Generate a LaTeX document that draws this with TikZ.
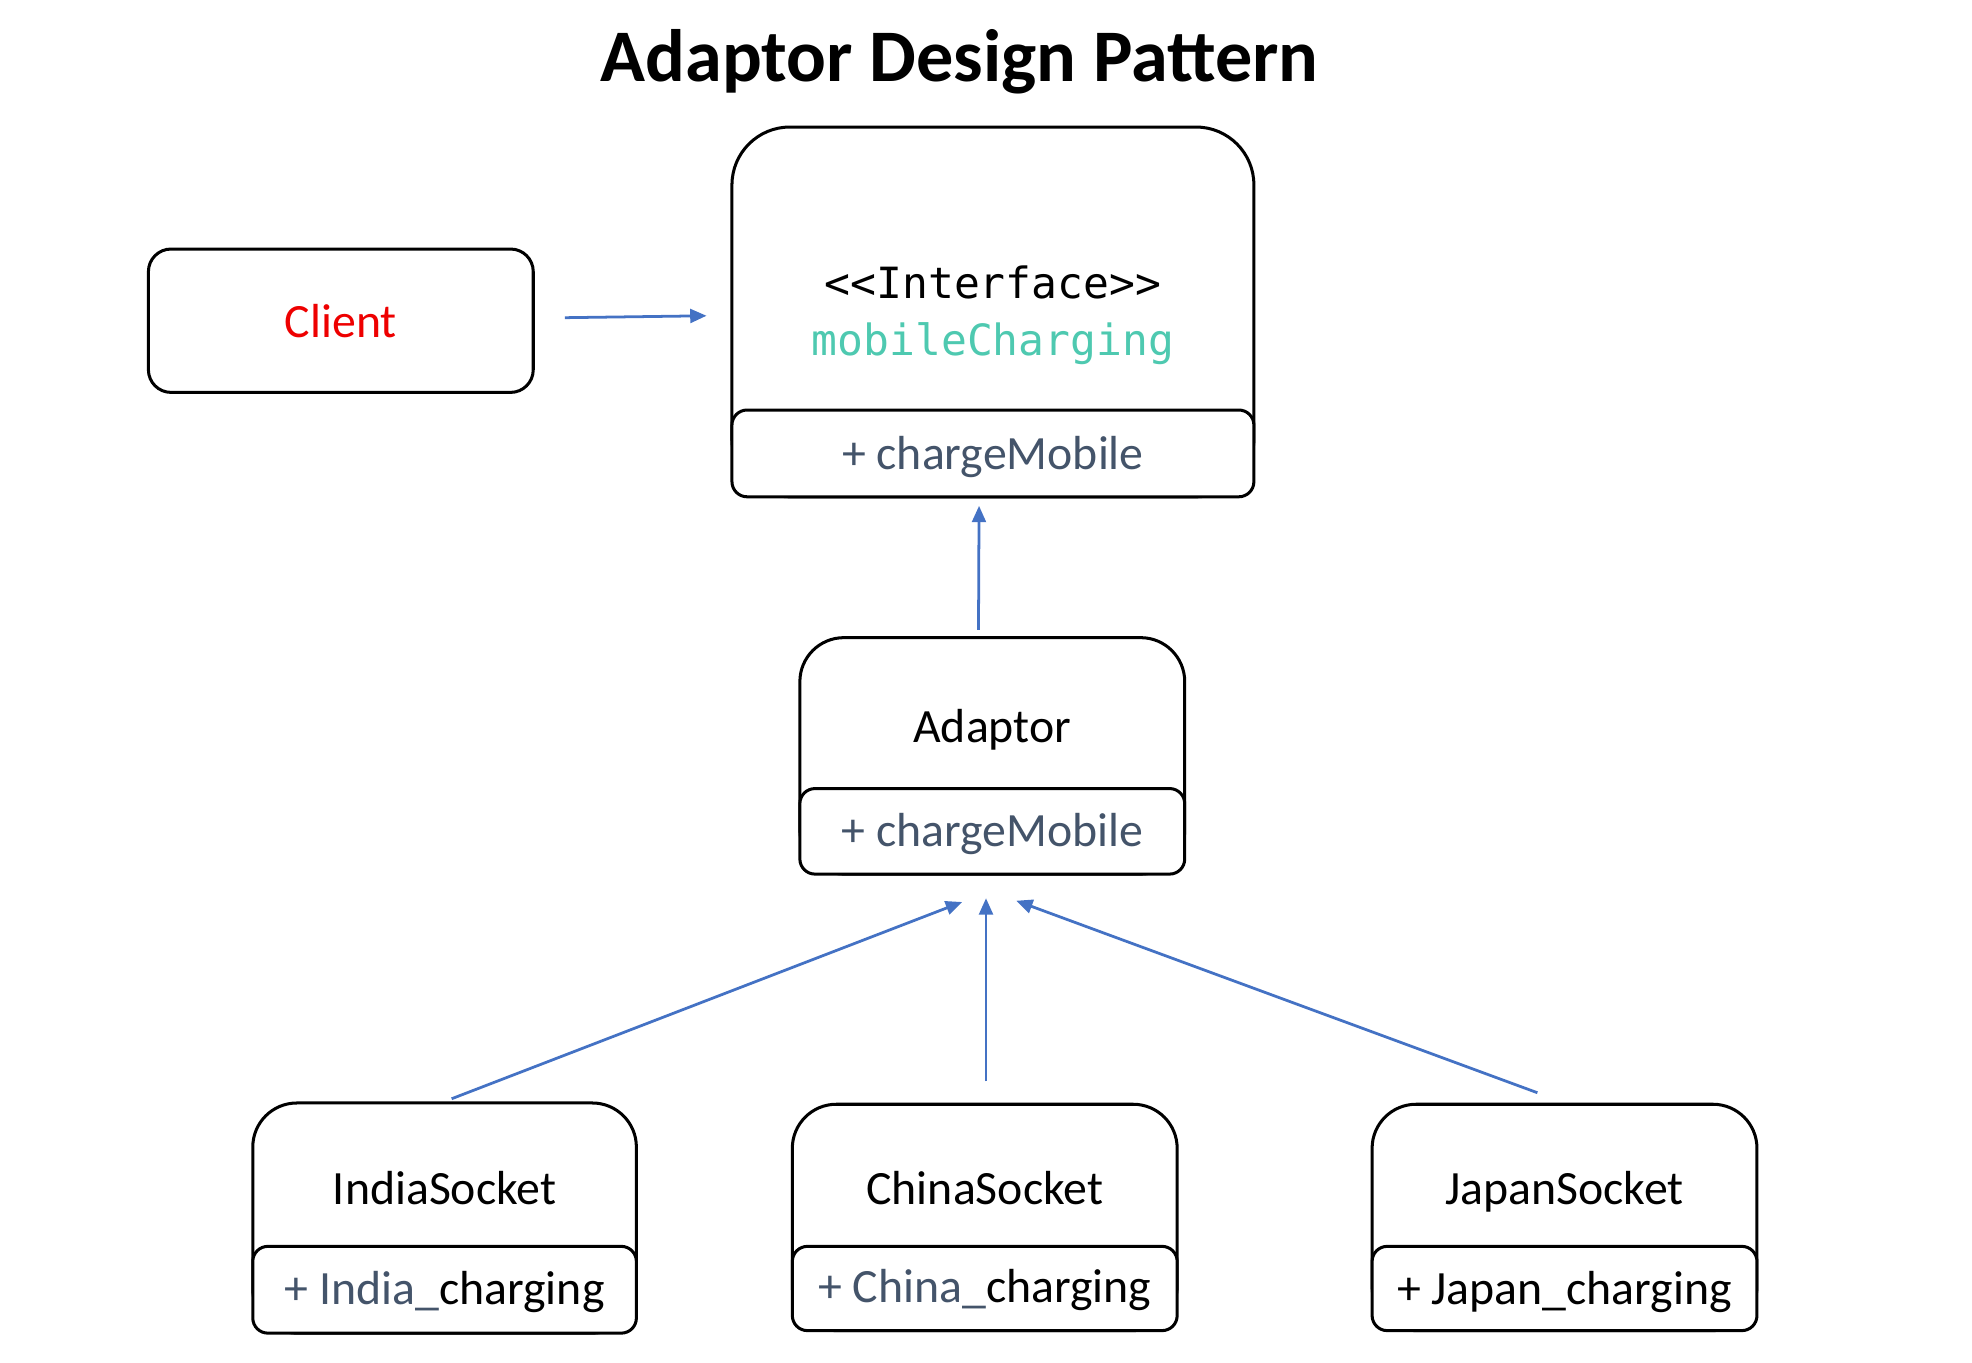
\documentclass[tikz,border=0pt]{standalone}
\usepackage{fontspec}
\setmainfont{Carlito}
\setmonofont{DejaVu Sans Mono}
\usetikzlibrary{arrows.meta,calc}
\definecolor{arrowblue}{HTML}{4472C4}
\definecolor{slate}{HTML}{44546A}
\definecolor{teal}{HTML}{4EC9B0}
\definecolor{clientred}{HTML}{EE0000}
\tikzset{
  cls/.style={draw=black, line width=1.2pt, fill=white, inner sep=0pt},
  txt/.style={anchor=base, inner sep=0pt, font=\fontsize{19pt}{22pt}\selectfont},
  mono/.style={anchor=base, inner sep=0pt, font=\fontsize{17.1pt}{20pt}\selectfont\ttfamily},
  arr/.style={draw=arrowblue, line width=1.1pt, -{Triangle[length=6.5pt,width=5.5pt]}}
}
\begin{document}
\begin{tikzpicture}[x=0.5pt,y=-0.5pt]
\useasboundingbox (0,0) rectangle (1568,1083.7);

% title
\node[anchor=base, inner sep=0pt, font=\fontsize{29.5pt}{34pt}\selectfont\bfseries] (title) at (763,65) {Adaptor Design Pattern};

% client
\node[cls, rounded corners=9pt, minimum width=153pt, minimum height=57pt] (client) at (271,255) {};
\node[txt, text=clientred] (clienttxt) at (271,268) {Client};

% interface
\node[cls, rounded corners=23pt, minimum width=207.5pt, minimum height=147pt] (iftop) at (789.5,248) {};
\node[cls, rounded corners=6pt, minimum width=207.5pt, minimum height=34.5pt] (ifbot) at (789.5,360.5) {};
\node[mono] (iftxt) at (789.5,237) {<{}<Interface>{}>};
\node[mono, text=teal] (ifname) at (789.5,283) {mobileCharging};
\node[txt, text=slate] (ifop) at (789.5,373) {+ chargeMobile};

% adaptor
\node[cls, rounded corners=17.5pt, minimum width=153pt, minimum height=94pt] (adtop) at (789,601) {};
\node[cls, rounded corners=6pt, minimum width=153pt, minimum height=34pt] (adbot) at (789,661) {};
\node[txt] (adname) at (789,590) {Adaptor};
\node[txt, text=slate] (adop) at (789,673) {+ chargeMobile};

% india
\node[cls, rounded corners=17.5pt, minimum width=152.5pt, minimum height=91.5pt] (intop) at (353.5,968.5) {};
\node[cls, rounded corners=6pt, minimum width=152.5pt, minimum height=34.5pt] (inbot) at (353.5,1025.5) {};
\node[txt] (inname) at (353.5,958) {IndiaSocket};
\node[txt] (inop) at (353.5,1037) {\textcolor{slate}{+ India\_}charging};

% china
\node[cls, rounded corners=17.5pt, minimum width=153pt, minimum height=90pt] (chtop) at (783,968) {};
\node[cls, rounded corners=6pt, minimum width=153pt, minimum height=33.5pt] (chbot) at (783,1024.5) {};
\node[txt] (chname) at (783,958) {ChinaSocket};
\node[txt] (chop) at (783,1036) {\textcolor{slate}{+ China\_}charging};

% japan
\node[cls, rounded corners=17.5pt, minimum width=153pt, minimum height=90pt] (jptop) at (1244,968) {};
\node[cls, rounded corners=6pt, minimum width=153pt, minimum height=33.5pt] (jpbot) at (1244,1024.5) {};
\node[txt] (jpname) at (1244,958) {JapanSocket};
\node[txt] (jpop) at (1244,1037) {+ Japan\_charging};

% arrow tips below adaptor
\coordinate (tipL) at ($(adbot.south)+(-24,21)$);
\coordinate (tipM) at ($(adbot.south)+(-5,18)$);
\coordinate (tipR) at ($(adbot.south)+(19,20)$);

% connectors
\draw[arr, shorten <=12pt, shorten >=9.5pt] (client) -- (iftop);
\draw[arr, shorten <=2.5pt, shorten >=3pt] ([xshift=-5.5pt]adtop.north) -- ([xshift=-5.5pt]ifbot.south);
\draw[arr, shorten <=3pt] (intop.north) -- (tipL);
\draw[arr, shorten <=8.5pt] ([xshift=0.5pt]chtop.north) -- (tipM);
\draw[arr, shorten <=11.5pt] (jptop.north) -- (tipR);
\end{tikzpicture}
\end{document}
